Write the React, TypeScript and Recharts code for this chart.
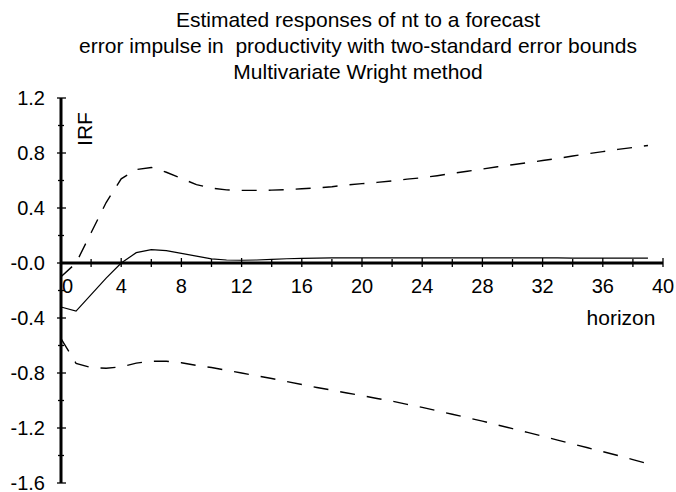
import { LineChart, Line, XAxis, YAxis, ReferenceLine } from 'recharts';

const horizon = Array.from({ length: 40 }, (_, i) => i);

const irf = [
  -0.32, -0.35, -0.23, -0.11, 0.0, 0.075, 0.097, 0.09, 0.07, 0.05,
  0.03, 0.022, 0.02, 0.022, 0.027, 0.031, 0.034, 0.036, 0.037, 0.037,
  0.037, 0.037, 0.037, 0.037, 0.037, 0.037, 0.037, 0.037, 0.037, 0.037,
  0.037, 0.037, 0.037, 0.037, 0.036, 0.036, 0.036, 0.036, 0.036, 0.036,
];

const upper = [
  -0.1, 0.0, 0.22, 0.44, 0.612, 0.68, 0.695, 0.66, 0.615, 0.57,
  0.545, 0.532, 0.528, 0.528, 0.53, 0.533, 0.54, 0.546, 0.555, 0.567,
  0.577, 0.586, 0.597, 0.61, 0.62, 0.635, 0.652, 0.667, 0.683, 0.7,
  0.715, 0.73, 0.745, 0.76, 0.778, 0.795, 0.81, 0.826, 0.84, 0.855,
];

const lower = [
  -0.55, -0.73, -0.76, -0.765, -0.755, -0.728, -0.715, -0.715, -0.725, -0.745,
  -0.76, -0.78, -0.8, -0.82, -0.84, -0.862, -0.884, -0.905, -0.925, -0.945,
  -0.965, -0.985, -1.005, -1.028, -1.05, -1.075, -1.1, -1.125, -1.15, -1.178,
  -1.205, -1.232, -1.26, -1.288, -1.316, -1.344, -1.372, -1.4, -1.43, -1.46,
];

const yTicks = [-1.6, -1.4, -1.2, -1.0, -0.8, -0.6, -0.4, -0.2, 0, 0.2, 0.4, 0.6, 0.8, 1.0, 1.2];
const xTicks = [0, 2, 4, 6, 8, 10, 12, 14, 16, 18, 20, 22, 24, 26, 28, 30, 32, 34, 36, 38, 40];

const titleLines = [
  'Estimated responses of nt to a forecast',
  'error impulse in  productivity with two-standard error bounds',
  'Multivariate Wright method',
];

const data = horizon.map((h, i) => ({ h, irf: irf[i], upper: upper[i], lower: lower[i] }));

const W = 676;
const H = 492;
const TOP = 98;
const PLOT_H = 385;
const Y_MIN = -1.6;
const Y_MAX = 1.2;
// pixel row of y = 0, where the horizontal axis is drawn
const Y0 = TOP + (Y_MAX / (Y_MAX - Y_MIN)) * PLOT_H;
const FONT = 'Liberation Sans, Arial, Helvetica, sans-serif';
const FS = 20;

function YTick(props: any) {
  const { x, y, payload } = props;
  const v = payload.value;
  const major = Math.round(v * 10) % 4 === 0;
  const label = v === 0 ? '-0.0' : v.toFixed(1);
  return (
    <g>
      <line x1={x - (major ? 4 : 3)} x2={x + (major ? 5 : 3)} y1={y} y2={y} stroke="#000" strokeWidth={1.3} />
      {major && (
        <text x={x - 16} y={y + 7} textAnchor="end" fontSize={FS} fontFamily={FONT} fill="#000">
          {label}
        </text>
      )}
    </g>
  );
}

function XTick(props: any) {
  const { x, payload } = props;
  const v = payload.value;
  const major = v % 4 === 0;
  return (
    <g>
      <line x1={x} x2={x} y1={Y0 - (major ? 5 : 4)} y2={Y0 + 4} stroke="#000" strokeWidth={1.3} />
      {major && (
        <text
          x={v === 0 ? x + 1 : x}
          y={Y0 + 30}
          textAnchor={v === 0 ? 'start' : 'middle'}
          fontSize={FS}
          fontFamily={FONT}
          fill="#000"
        >
          {v}
        </text>
      )}
    </g>
  );
}

export default function App() {
  return (
    <div style={{ position: 'relative', width: W, height: H }}>
      <style>{'body { margin: 0; overflow: hidden; }'}</style>
      <LineChart width={W} height={H} data={data} margin={{ top: TOP, right: 13, bottom: 0, left: 0 }}>
        <XAxis
          dataKey="h"
          type="number"
          domain={[0, 40]}
          ticks={xTicks}
          height={9}
          axisLine={false}
          tickLine={false}
          tick={<XTick />}
          interval={0}
        />
        <YAxis
          type="number"
          domain={[Y_MIN, Y_MAX]}
          ticks={yTicks}
          width={61}
          axisLine={{ stroke: '#000', strokeWidth: 3 }}
          tickLine={false}
          tickSize={0}
          tickMargin={0}
          tick={<YTick />}
          interval={0}
        />
        <ReferenceLine y={0} stroke="#000" strokeWidth={3} />
        <Line dataKey="upper" stroke="#000" strokeWidth={1.4} strokeDasharray="15 12" dot={false} isAnimationActive={false} />
        <Line dataKey="lower" stroke="#000" strokeWidth={1.4} strokeDasharray="15 12" dot={false} isAnimationActive={false} />
        <Line dataKey="irf" stroke="#000" strokeWidth={1.2} dot={false} isAnimationActive={false} />
      </LineChart>
      <svg width={W} height={H} style={{ position: 'absolute', left: 0, top: 0, pointerEvents: 'none' }}>
        {titleLines.map((t, i) => (
          <text
            key={i}
            x={358}
            y={27 + i * 26}
            textAnchor="middle"
            fontSize={21}
            fontFamily={FONT}
            fill="#000"
            style={{ whiteSpace: 'pre' }}
          >
            {t}
          </text>
        ))}
        <text x={91.5} y={129} transform="rotate(-90 91.5 129)" textAnchor="middle" fontSize={21} fontFamily={FONT} fill="#000">
          IRF
        </text>
        <text x={621} y={325} textAnchor="middle" fontSize={21} fontFamily={FONT} fill="#000">
          horizon
        </text>
      </svg>
    </div>
  );
}
